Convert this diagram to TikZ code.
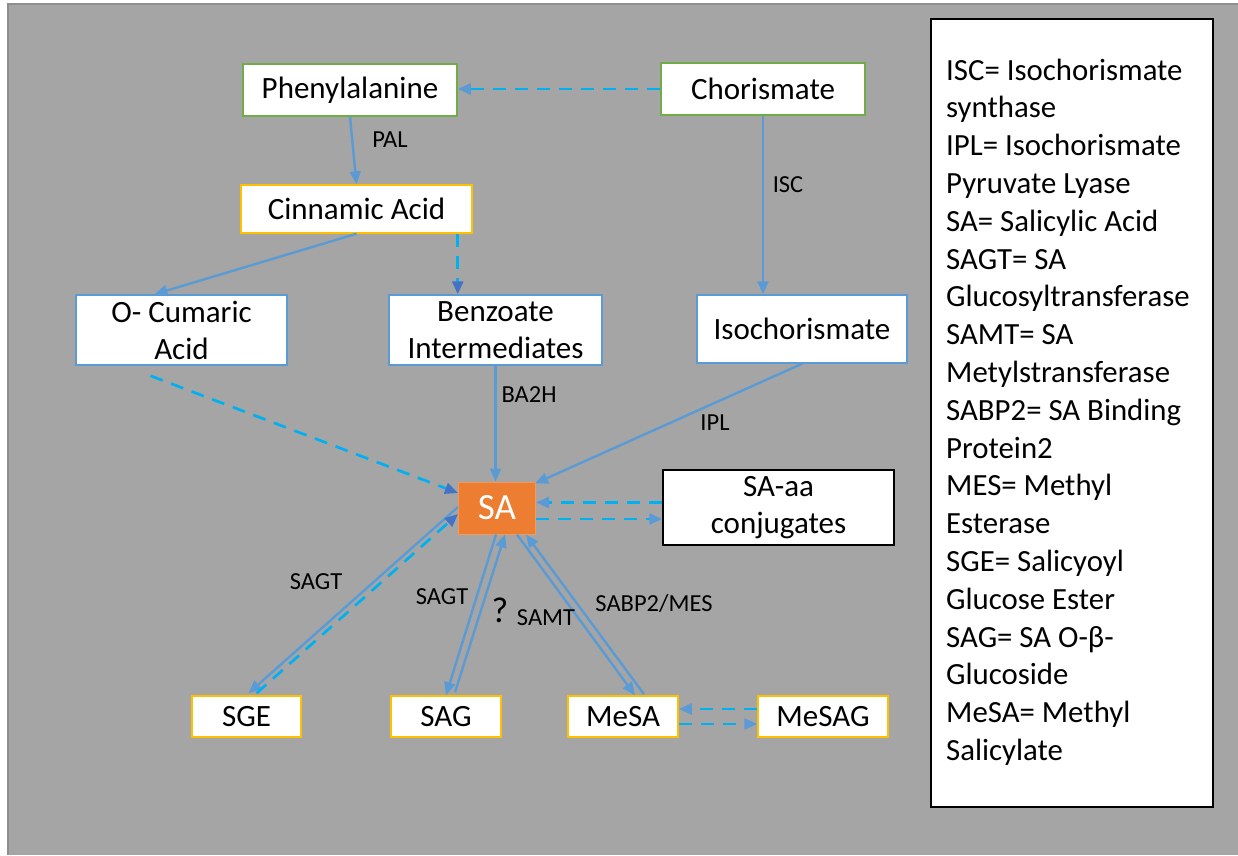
\documentclass[tikz,border=0pt]{standalone}
\usepackage{fontspec}
\setmainfont{Carlito}
\usetikzlibrary{arrows.meta,calc}
\definecolor{bg}{HTML}{A5A5A5}
\definecolor{bgline}{HTML}{8E8E8E}
\definecolor{grnc}{HTML}{70AD47}
\definecolor{goldc}{HTML}{FFC000}
\definecolor{bluc}{HTML}{5B9BD5}
\definecolor{lblue}{HTML}{5B9BD5}
\definecolor{dblue}{HTML}{4472C4}
\definecolor{cyanc}{HTML}{00B0F0}
\definecolor{orng}{HTML}{ED7D31}
\definecolor{orngl}{HTML}{F19A5C}
\begin{document}
\begin{tikzpicture}[x=1pt,y=-1pt,
  box/.style={draw, line width=1.5pt, fill=white, inner sep=0pt, align=center,
    font=\fontsize{31}{37}\selectfont, text=black},
  grn/.style={box, draw=grnc},
  gld/.style={box, draw=goldc},
  blu/.style={box, draw=bluc},
  blk/.style={box, draw=black},
  sabox/.style={draw=orngl, line width=1pt, fill=orng, inner sep=0pt,
    font=\fontsize{37}{40}\selectfont, text=white},
  sol/.style={line width=2.4pt, draw=lblue, -{Triangle[length=13pt,width=11pt,color=lblue]}},
  dsh/.style={line width=2.7pt, draw=cyanc, dash pattern=on 13pt off 9pt,
    -{Triangle[length=13pt,width=11pt,color=lblue]}},
  dshd/.style={dsh, -{Triangle[length=13pt,width=11pt,color=dblue]}},
  lab/.style={font=\fontsize{24.5}{29}\selectfont, inner sep=0pt, text=black},
  legtext/.style={font=\fontsize{30.8}{37}\selectfont, inner sep=0pt, anchor=base west, text=black}
]
\useasboundingbox (0,0) rectangle (1238,855);
\fill[bg] (8,4) rectangle (1238,855);
\draw[bgline, line width=1.5pt] (8,855) -- (8,4) -- (1238,4);

% nodes
\node[grn, minimum width=214pt, minimum height=52pt] (phe) at (350,90) {Phenylalanine};
\node[grn, minimum width=204pt, minimum height=52pt] (chor) at (763,89) {Chorismate};
\node[gld, minimum width=231pt, minimum height=48pt] (cin) at (356.5,209) {Cinnamic Acid};
\node[blu, minimum width=211pt, minimum height=70pt] (ocu) at (181.5,330) {O- Cumaric\\Acid};
\node[blu, minimum width=213pt, minimum height=70pt] (benz) at (495.5,330) {Benzoate\\Intermediates};
\node[blu, minimum width=210pt, minimum height=68pt] (iso) at (802,329) {Isochorismate};
\node[sabox, minimum width=77pt, minimum height=52pt] (sa) at (497,508) {SA};
\node[blk, minimum width=231pt, minimum height=75pt] (conj) at (778.5,507.5) {SA-aa\\conjugates};
\node[gld, minimum width=109pt, minimum height=41pt] (sge) at (246.5,716.5) {SGE};
\node[gld, minimum width=110pt, minimum height=41pt] (sag) at (446,716.5) {SAG};
\node[gld, minimum width=110pt, minimum height=41pt] (mesa) at (623,716.5) {MeSA};
\node[gld, minimum width=130pt, minimum height=41pt] (mesag) at (823,716.5) {MeSAG};

% connectors
\draw[dsh] (chor.west) -- (chor.west -| phe.east);
\draw[sol] (phe.south) -- (cin.north);
\draw[sol] (chor.south) -- (chor.south |- iso.north);
\draw[sol] (cin.south) -- ([xshift=-27pt]ocu.north);
\draw[dshd] ([xshift=-15pt]cin.south east) -- ([xshift=-15pt]cin.south east |- benz.north);
\draw[dshd] ([xshift=-31pt,yshift=-10pt]ocu.south) -- ([yshift=15pt]sa.west);
\draw[sol] (benz.south) -- (benz.south |- sa.north);
\draw[sol] (iso.south) -- ([xshift=-1pt,yshift=-2pt]sa.north east);
\draw[dsh] ([yshift=5pt]conj.west) -- ([yshift=5pt]conj.west -| sa.east);
\draw[dsh] ([yshift=-11pt]sa.east) -- ([yshift=-11pt]sa.east -| conj.west);
\draw[sol] ([yshift=1pt]sa.west) -- ([xshift=2pt,yshift=2pt]sge.north);
\draw[dshd] ([xshift=10pt,yshift=2pt]sge.north) -- ([yshift=-6pt]sa.west);
\draw[sol] ([xshift=-1pt]sa.south) -- (sag.north);
\draw[sol] ([xshift=9pt,yshift=3pt]sag.north) -- ([xshift=8pt]sa.south);
\draw[sol] ([xshift=20pt]sa.south) -- ([xshift=12pt]mesa.north);
\draw[sol] ([xshift=21pt,yshift=1pt]mesa.north) -- ([xshift=29pt]sa.south);
\draw[dsh] ([yshift=7.5pt]mesag.west) -- ([yshift=7.5pt]mesag.west -| mesa.east);
\draw[dsh] ([yshift=-7.5pt]mesa.east) -- ([yshift=-7.5pt]mesa.east -| mesag.west);

% labels
\node[lab] (lpal) at (390,140) {PAL};
\node[lab] (lisc) at (788,185) {ISC};
\node[lab] (lba2h) at (529,395) {BA2H};
\node[lab] (lipl) at (715,423) {IPL};
\node[lab] (lsagt1) at (316,582) {SAGT};
\node[lab] (lsagt2) at (442,597) {SAGT};
\node[font=\fontsize{36}{40}\selectfont, inner sep=0pt] (lq) at (500,610) {?};
\node[lab] (lsamt) at (546,618) {SAMT};
\node[lab] (lsabp) at (654,604) {SABP2/MES};

% legend
\node[draw=black, line width=2pt, fill=white, minimum width=282pt, minimum height=788pt,
  anchor=north west, inner sep=0pt] (leg) at (930,18) {};
\foreach \t [count=\i from 0] in {{ISC= Isochorismate},{synthase},{IPL= Isochorismate},
  {Pyruvate Lyase},{SA= Salicylic Acid},{SAGT= SA},{Glucosyltransferase},{SAMT= SA},
  {Metylstransferase},{SABP2= SA Binding},{Protein2},{MES= Methyl},{Esterase},
  {SGE= Salicyoyl},{Glucose Ester},{SAG= SA O-β-},{Glucoside},{MeSA= Methyl},{Salicylate}}
  \node[legtext] (l\i) at (946,80+37.8*\i) {\t};
\end{tikzpicture}
\end{document}
